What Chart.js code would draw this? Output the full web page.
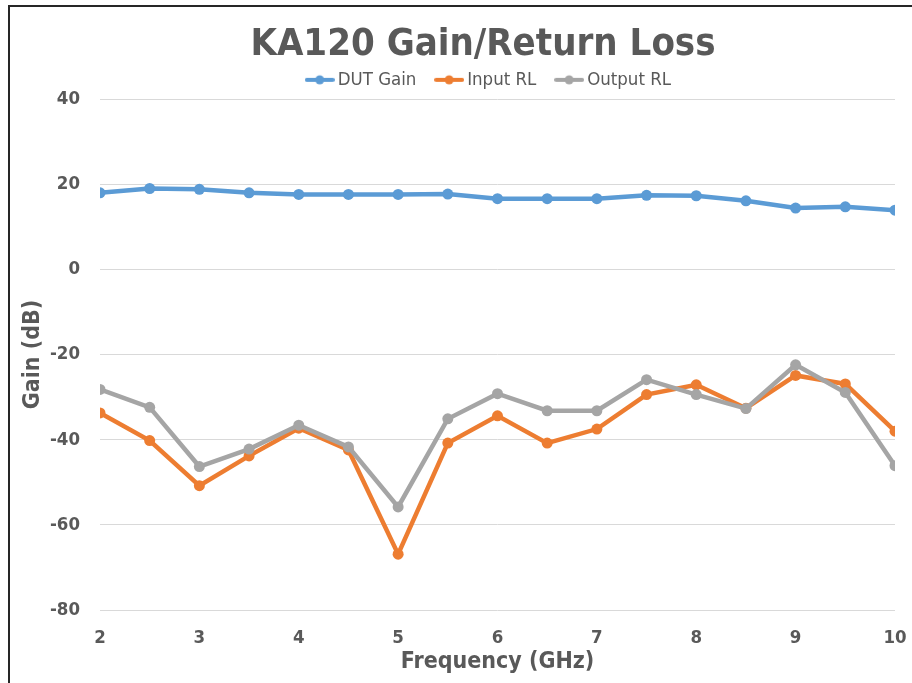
<!DOCTYPE html>
<html>
<head>
<meta charset="utf-8">
<script src="https://cdn.jsdelivr.net/npm/chart.js@4"></script>
<style>
  html, body { margin: 0; padding: 0; background: #fff; overflow: hidden; }
  #frame { position: absolute; left: 8px; top: 5px; width: 1000px; height: 1000px; border: 2px solid #262626; }
  #wrap { position: absolute; left: 0; top: 0; width: 966px; height: 683px; }
</style>
</head>
<body>
<div id="frame"></div>
<div id="wrap"><canvas id="gainChart" width="966" height="683"></canvas></div>
<script>
// Frequency points (GHz) and measured values (dB)
const freq = [2, 2.5, 3, 3.5, 4, 4.5, 5, 5.5, 6, 6.5, 7, 7.5, 8, 8.5, 9, 9.5, 10];
const dutGain = [18.0, 19.0, 18.8, 18.0, 17.6, 17.6, 17.6, 17.7, 16.6, 16.6, 16.6, 17.4, 17.3, 16.1, 14.4, 14.7, 13.9];
const inputRL = [-33.7, -40.2, -50.8, -43.8, -37.3, -42.4, -66.9, -40.8, -34.4, -40.8, -37.5, -29.4, -27.1, -32.6, -24.9, -26.9, -38.0];
const outputRL = [-28.2, -32.4, -46.3, -42.2, -36.6, -41.7, -55.8, -35.1, -29.2, -33.2, -33.2, -25.9, -29.4, -32.7, -22.4, -28.9, -46.1];

const FONT = "'DejaVu Sans Condensed', 'Liberation Sans', sans-serif";
const TEXT = '#595959';

// legend marker: short line with a dot, like the Excel legend
function legendMarker(color) {
    const c = document.createElement('canvas');
    c.width = 30; c.height = 12;
    const g = c.getContext('2d');
    g.strokeStyle = color; g.lineWidth = 4; g.lineCap = 'round';
    g.beginPath(); g.moveTo(2, 6); g.lineTo(28, 6); g.stroke();
    g.fillStyle = color;
    g.beginPath(); g.arc(15, 6, 4.5, 0, Math.PI * 2); g.fill();
    return c;
}

function series(label, values, color, order) {
    return {
        label: label,
        data: freq.map((f, i) => ({ x: f, y: values[i] })),
        borderColor: color,
        backgroundColor: color,
        pointBackgroundColor: color,
        pointBorderColor: color,
        borderWidth: 4.5,
        pointRadius: 5.5,
        pointBorderWidth: 0,
        tension: 0,
        order: order,
        marker: legendMarker(color)
    };
}

// nudge the legend a little to the right, as in the original
const legendShift = {
    id: 'legendShift',
    afterLayout(chart) {
        chart.legend.left += 8;
        chart.legend.right += 8;
    }
};

const ctx = document.getElementById('gainChart').getContext('2d');
const chart = new Chart(ctx, {
    type: 'line',
    data: {
        datasets: [
            series('DUT Gain', dutGain, '#5B9BD5', 2),
            series('Input RL', inputRL, '#ED7D31', 1),
            series('Output RL', outputRL, '#A5A5A5', 0)
        ]
    },
    plugins: [legendShift],
    options: {
        responsive: false,
        animation: false,
        layout: { padding: 0 },
        plugins: {
            title: {
                display: true,
                text: 'KA120 Gain/Return Loss',
                color: TEXT,
                font: { family: FONT, size: 38, weight: 'bold', lineHeight: 1.2 },
                padding: { top: 22, bottom: -21 }
            },
            legend: {
                labels: {
                    usePointStyle: true,
                    pointStyleWidth: 17.5,
                    padding: 24,
                    color: TEXT,
                    font: { family: FONT, size: 18.5 },
                    generateLabels: (c) => c.data.datasets.map((ds, i) => ({
                        text: ds.label,
                        fillStyle: ds.borderColor,
                        strokeStyle: ds.borderColor,
                        lineWidth: 0,
                        pointStyle: ds.marker,
                        fontColor: TEXT,
                        datasetIndex: i,
                        hidden: false
                    }))
                }
            },
            tooltip: { enabled: false }
        },
        scales: {
            x: {
                type: 'linear',
                min: 2,
                max: 10,
                grid: { display: false, drawTicks: false },
                border: { display: false },
                ticks: { stepSize: 1, padding: 17, color: TEXT, font: { family: FONT, size: 18.5, weight: 'bold' } },
                title: {
                    display: true,
                    text: 'Frequency (GHz)',
                    color: TEXT,
                    font: { family: FONT, size: 23, weight: 'bold', lineHeight: 1.2 },
                    padding: { top: 0, bottom: 7 }
                },
                afterFit: (scale) => { scale.height = 73; }
            },
            y: {
                min: -80,
                max: 40,
                grid: { color: '#D9D9D9', lineWidth: 1, drawTicks: false },
                border: { display: false },
                ticks: { stepSize: 20, padding: 20, color: TEXT, font: { family: FONT, size: 18.5, weight: 'bold' } },
                title: {
                    display: true,
                    text: 'Gain (dB)',
                    color: TEXT,
                    font: { family: FONT, size: 23, weight: 'bold', lineHeight: 1.2 },
                    padding: { top: 19, bottom: 0 }
                },
                afterFit: (scale) => { scale.width = 100; }
            },
            // empty right-hand space: the original chart is cropped on the right
            spacer: {
                position: 'right',
                min: -80,
                max: 40,
                grid: { display: false, drawTicks: false },
                border: { display: false },
                ticks: { display: false },
                afterFit: (scale) => { scale.width = 71; }
            }
        }
    }
});
</script>
</body>
</html>
